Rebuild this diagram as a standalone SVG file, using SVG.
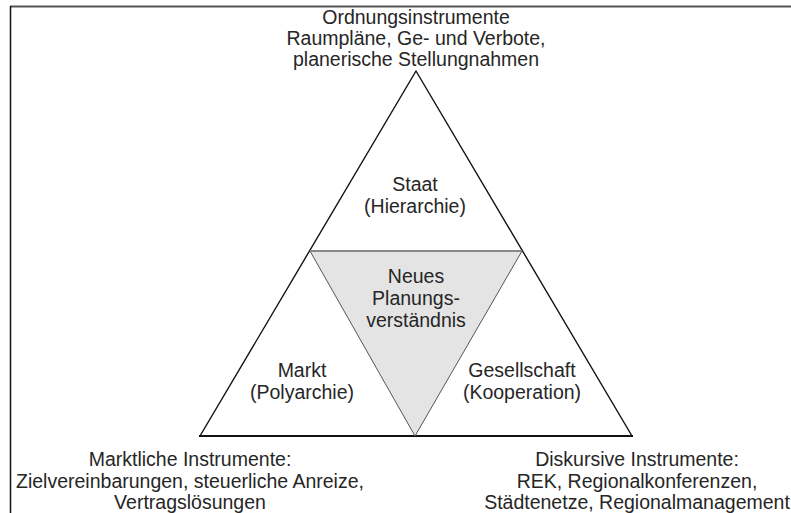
<svg xmlns="http://www.w3.org/2000/svg" width="791" height="513" viewBox="0 0 791 513">
  <style>
    text { font-family: "Liberation Sans", Arial, sans-serif; font-size: 19.5px; fill: #262626; text-anchor: middle; }
    .outline { fill: none; stroke: #111; stroke-width: 1.4; stroke-linejoin: miter; }
    .core { fill: #e4e4e4; stroke: #555; stroke-width: 1; }
  </style>
  <rect width="791" height="513" fill="#fff"/>
  <!-- page frame (top and left edges only) -->
  <g id="frame">
    <line x1="10" y1="6.5" x2="791" y2="6.5" stroke="#555" stroke-width="2"/>
    <line x1="10.5" y1="6" x2="10.5" y2="513" stroke="#111" stroke-width="1.5"/>
  </g>
  <g id="connectors">
    <!-- outer triangle -->
    <polygon class="outline" points="416,71 200,436 632,436"/>
    <line x1="199" y1="436" x2="633" y2="436" stroke="#111" stroke-width="2"/>
  </g>
  <g id="neues-planungsverstaendnis">
    <polygon class="core" points="310,251 522,251 415,436"/>
    <line x1="310" y1="251" x2="522" y2="251" stroke="#888" stroke-width="2"/>
    <text x="416" y="283">Neues</text>
    <text x="416" y="305">Planungs-</text>
    <text x="416" y="327">verständnis</text>
  </g>
  <g id="staat">
    <text x="415" y="191">Staat</text>
    <text x="415" y="213">(Hierarchie)</text>
  </g>
  <g id="markt">
    <text x="302" y="377">Markt</text>
    <text x="302" y="399">(Polyarchie)</text>
  </g>
  <g id="gesellschaft">
    <text x="522" y="377">Gesellschaft</text>
    <text x="522" y="399">(Kooperation)</text>
  </g>
  <g id="ordnungsinstrumente">
    <text x="416" y="24">Ordnungsinstrumente</text>
    <text x="416" y="45">Raumpläne, Ge- und Verbote,</text>
    <text x="416" y="66">planerische Stellungnahmen</text>
  </g>
  <g id="marktliche-instrumente">
    <text x="190" y="466">Marktliche Instrumente:</text>
    <text x="190" y="488">Zielvereinbarungen, steuerliche Anreize,</text>
    <text x="190" y="509">Vertragslösungen</text>
  </g>
  <g id="diskursive-instrumente">
    <text x="637" y="466">Diskursive Instrumente:</text>
    <text x="637" y="488">REK, Regionalkonferenzen,</text>
    <text x="637" y="509">Städtenetze, Regionalmanagement</text>
  </g>
</svg>
